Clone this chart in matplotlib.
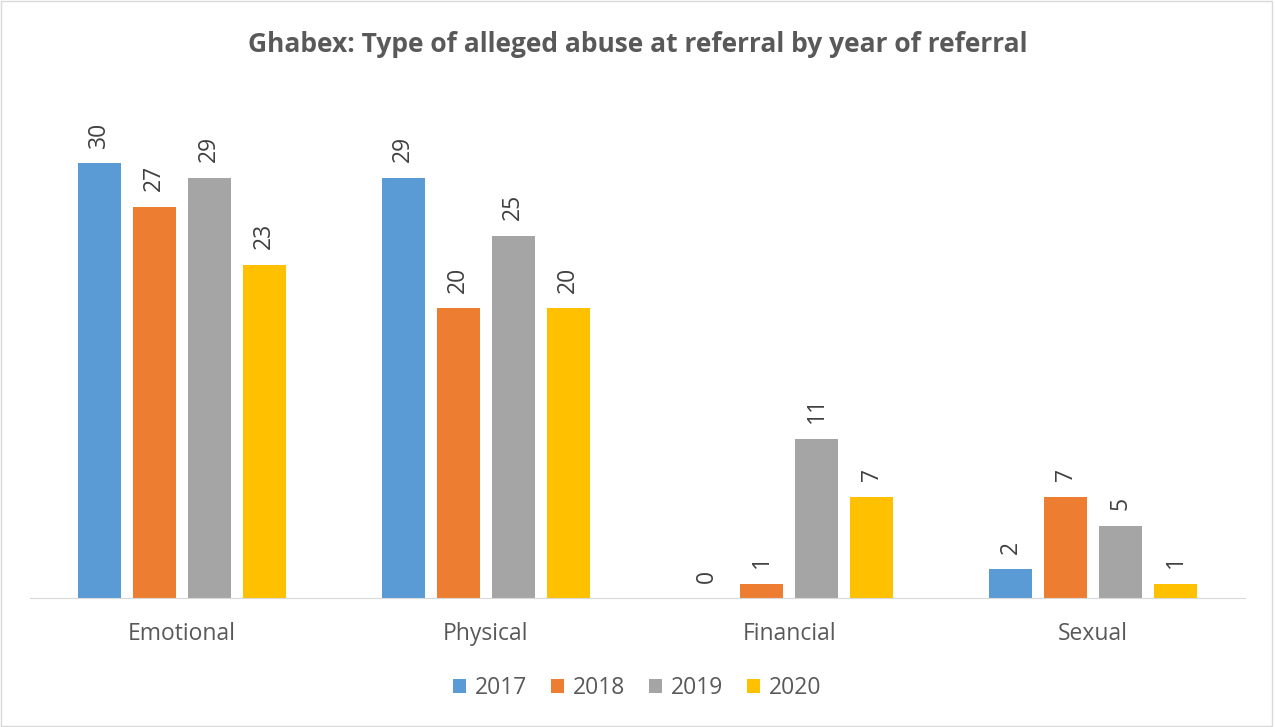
import matplotlib.pyplot as plt
import numpy as np
from matplotlib.patches import Rectangle

categories = ['Emotional', 'Physical', 'Financial', 'Sexual']
years = ['2017', '2018', '2019', '2020']
v2017 = [30, 29, 0, 2]
v2018 = [27, 20, 1, 7]
v2019 = [29, 25, 11, 5]
v2020 = [23, 20, 7, 1]

colors = ['#5B9BD5', '#ED7D31', '#A5A5A5', '#FFC000']
series = [v2017, v2018, v2019, v2020]

plt.rcParams['font.family'] = ['Open Sans', 'DejaVu Sans']

fig = plt.figure(figsize=(12.75, 7.27), dpi=100)
ax = fig.add_axes([0.0235, 0.1774, 0.953, 0.6981])

x = np.arange(len(categories))
step = 0.181
width = 0.1416
for i, (vals, yr) in enumerate(zip(series, years)):
    pos = x + (i - 1.5) * step
    ax.bar(pos, vals, width, color=colors[i], label=yr)
    for xp, v in zip(pos, vals):
        ax.annotate(str(v), (xp, v), xytext=(0, 11), textcoords='offset points',
                    rotation=90, ha='center', va='bottom',
                    fontsize=16.5, color='#404040')

ax.set_xlim(-0.5, 3.5)
ax.set_ylim(0, 35)
ax.set_yticks([])
ax.set_xticks(x)
ax.set_xticklabels(categories, fontsize=16.5, color='#595959')
ax.tick_params(axis='x', length=0, pad=17.5)
for s in ['top', 'right', 'left']:
    ax.spines[s].set_visible(False)
ax.spines['bottom'].set_color('#D9D9D9')

fig.suptitle('Ghabex: Type of alleged abuse at referral by year of referral',
             fontsize=19, fontweight='bold', color='#595959', y=0.958)

fig.legend(loc='center', bbox_to_anchor=(0.5, 0.053), ncol=4, frameon=False,
           fontsize=16.5, handlelength=0.55, handleheight=0.55,
           columnspacing=1.05, handletextpad=0.4, labelcolor='#595959')

fig.patches.append(Rectangle((0.001, 0.001), 0.997, 0.997, transform=fig.transFigure,
                             fill=False, edgecolor='#D9D9D9', linewidth=1))

fig.savefig('out.png', dpi=100)
